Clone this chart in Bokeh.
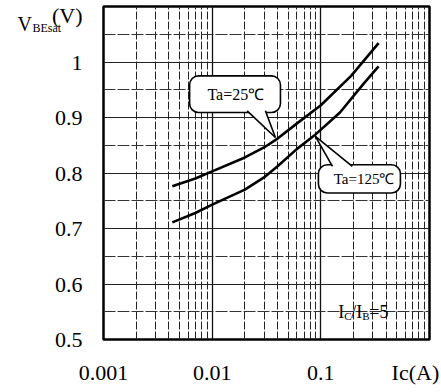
from bokeh.plotting import figure
from bokeh.models import FixedTicker, Label, Range1d
from bokeh.embed import file_html
from bokeh.resources import INLINE

# ---- data ----
ic_25 = [0.0043, 0.007, 0.01, 0.02, 0.03, 0.04, 0.06, 0.1, 0.19, 0.34]
vbe_25 = [0.776, 0.790, 0.803, 0.828, 0.846, 0.862, 0.889, 0.922, 0.975, 1.034]
ic_125 = [0.0043, 0.007, 0.01, 0.02, 0.03, 0.04, 0.06, 0.09, 0.15, 0.25, 0.34]
vbe_125 = [0.711, 0.728, 0.743, 0.770, 0.792, 0.812, 0.843, 0.870, 0.909, 0.962, 0.992]

x_ticks = [0.001, 0.01, 0.1, 0.742]
x_tick_labels = ["0.001", "0.01", "0.1", "Ic(A)"]
y_ticks = [0.5, 0.6, 0.7, 0.8, 0.9, 1.0, 1.083]
y_tick_labels = ["0.5", "0.6", "0.7", "0.8", "0.9", "1", "(V)"]
y_major_grid = [0.5, 0.6, 0.7, 0.8, 0.9, 1.0]
y_minor = [0.55, 0.65, 0.75, 0.85, 0.95, 1.05]
x_major_grid = [0.001, 0.01, 0.1, 1]
x_minor = [k * d for d in (0.001, 0.01, 0.1) for k in range(2, 10)]

# callout definitions (data coords)
box25 = dict(left=0.0062, right=0.0425, top=0.975, bottom=0.909)
tail25_x = [0.021, 0.0382, 0.0309]
tail25_y = [0.912, 0.864, 0.912]
text25 = (0.0165, 0.941, "Ta=25℃")
box125 = dict(left=0.095, right=0.54, top=0.815, bottom=0.764)
tail125_x = [0.128, 0.0891, 0.195]
tail125_y = [0.812, 0.866, 0.812]
text125 = (0.25, 0.789, "Ta=125℃")

SERIF = "Liberation Serif"

p = figure(width=441, height=390, x_axis_type="log", title=None,
           x_range=Range1d(0.001, 1), y_range=Range1d(0.5, 1.1),
           output_backend="svg", toolbar_location=None,
           min_border_left=103, min_border_right=12,
           min_border_top=6, min_border_bottom=51)
p.background_fill_color = "white"
p.border_fill_color = "white"
p.outline_line_color = "black"
p.outline_line_width = 2.5

# axes
p.xaxis.ticker = FixedTicker(ticks=x_ticks, minor_ticks=x_minor)
p.xaxis.major_label_overrides = dict(zip(x_ticks, x_tick_labels))
p.yaxis.ticker = FixedTicker(ticks=y_ticks, minor_ticks=y_minor)
p.yaxis.major_label_overrides = dict(zip(y_ticks, y_tick_labels))
for ax in (p.xaxis, p.yaxis):
    ax.axis_line_color = None
    ax.major_tick_line_color = None
    ax.minor_tick_line_color = None
    ax.major_label_text_font = SERIF
    ax.major_label_text_font_size = "22px"
    ax.major_label_text_color = "black"
p.xaxis.major_label_standoff = 14
p.yaxis.major_label_standoff = 15

# grids
p.xgrid.ticker = FixedTicker(ticks=x_major_grid, minor_ticks=x_minor)
p.xgrid.grid_line_color = "#111111"
p.xgrid.grid_line_width = 1.3
p.xgrid.minor_grid_line_color = "#222222"
p.xgrid.minor_grid_line_width = 1
p.xgrid.minor_grid_line_dash = "8 2"
p.ygrid.ticker = FixedTicker(ticks=y_major_grid, minor_ticks=y_minor)
p.ygrid.grid_line_color = "#222222"
p.ygrid.grid_line_width = 1.2
p.ygrid.minor_grid_line_color = "#333333"
p.ygrid.minor_grid_line_width = 1
p.ygrid.minor_grid_line_dash = "12 2"

# curves
p.line(ic_25, vbe_25, line_color="black", line_width=2.6)
p.line(ic_125, vbe_125, line_color="black", line_width=2.6)

# callouts
for box, tx, ty, (lx, ly, lt), fs in ((box25, tail25_x, tail25_y, text25, "16px"),
                                     (box125, tail125_x, tail125_y, text125, "15px")):
    p.quad(fill_color="white", line_color="black", line_width=1.6,
           border_radius=9, **{k: [v] for k, v in box.items()})
    p.patch(tx, ty, fill_color="white", line_color=None)
    p.multi_line([[tx[0], tx[1]], [tx[1], tx[2]]], [[ty[0], ty[1]], [ty[1], ty[2]]],
                 line_color="black", line_width=1.6)
    p.text([lx], [ly], text=[lt], text_align="center", text_baseline="middle",
           text_font={"value": "Liberation Sans Narrow"}, text_font_size=fs, text_color="black")

def lab(x, y, text, dx, dy, size, place=None):
    l = Label(x=x, y=y, x_offset=dx, y_offset=dy, text=text,
              text_font=SERIF, text_font_size=size, text_color="black",
              text_align="left", text_baseline="alphabetic")
    if place:
        p.add_layout(l, place)
    else:
        p.add_layout(l)

# y-axis title V_BEsat(V): "V" and subscript in the left side panel, "(V)" as top tick label
lab(0.001, 1.1, "V", -86, -17, "20px", "left")
lab(0.001, 1.1, "BEsat", -71, -21, "12px", "left")

# I_C/I_B=5
lab(0.145, 0.549, "I", 0, 0, "18px")
lab(0.145, 0.549, "C", 6, -4, "11px")
lab(0.145, 0.549, "/I", 13, 0, "18px")
lab(0.145, 0.549, "B", 24, -4, "11px")
lab(0.145, 0.549, "=5", 31, 0, "18px")

open("out.html", "w").write(file_html(p, INLINE))
